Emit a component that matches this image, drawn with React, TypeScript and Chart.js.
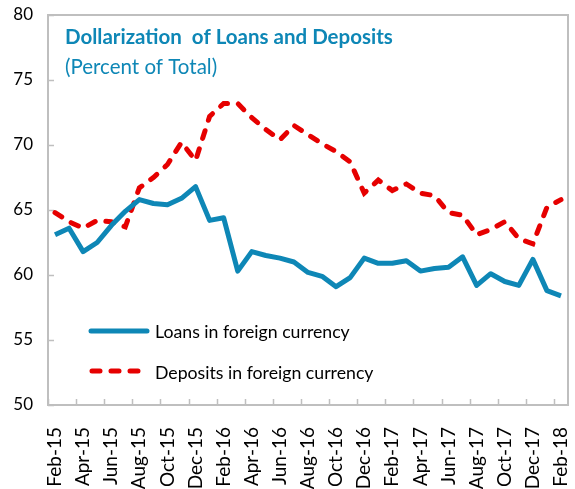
import React, { useEffect, useRef } from "react";
import { Chart, registerables } from "chart.js";

Chart.register(...registerables);

const months: string[] = [
  "Feb-15","Mar-15","Apr-15","May-15","Jun-15","Jul-15","Aug-15","Sep-15","Oct-15","Nov-15","Dec-15","Jan-16",
  "Feb-16","Mar-16","Apr-16","May-16","Jun-16","Jul-16","Aug-16","Sep-16","Oct-16","Nov-16","Dec-16","Jan-17",
  "Feb-17","Mar-17","Apr-17","May-17","Jun-17","Jul-17","Aug-17","Sep-17","Oct-17","Nov-17","Dec-17","Jan-18","Feb-18",
];

const loans: number[] = [
  63.1, 63.6, 61.8, 62.5, 63.8, 64.9, 65.8, 65.5, 65.4, 65.9, 66.8, 64.2,
  64.4, 60.3, 61.8, 61.5, 61.3, 61.0, 60.2, 59.9, 59.1, 59.8, 61.3, 60.9,
  60.9, 61.1, 60.3, 60.5, 60.6, 61.4, 59.2, 60.1, 59.5, 59.2, 61.2, 58.8, 58.4,
];

const deposits: number[] = [
  64.8, 64.1, 63.6, 64.2, 64.1, 63.7, 66.7, 67.5, 68.5, 70.2, 68.8, 72.2,
  73.2, 73.2, 72.1, 71.2, 70.4, 71.5, 70.8, 70.1, 69.5, 68.7, 66.3, 67.3,
  66.5, 67.0, 66.3, 66.1, 64.8, 64.6, 63.1, 63.5, 64.1, 62.8, 62.4, 65.2, 65.8,
];

const yTicks: number[] = [50, 55, 60, 65, 70, 75, 80];

const titleText = "Dollarization  of Loans and Deposits";
const subtitleText = "(Percent of Total)";
const loansLabel = "Loans in foreign currency";
const depositsLabel = "Deposits in foreign currency";

const BLUE = "#0E87B6";
const RED = "#E60000";
const FRAME = "#BFBFBF";
const FONT = "Lato";

const decorPlugin = {
  id: "decor",
  beforeDatasetsDraw(chart: any) {
    const { ctx, chartArea } = chart;
    const { left, right, top, bottom } = chartArea;
    const ys = chart.scales.y;
    ctx.save();
    ctx.strokeStyle = FRAME;
    ctx.lineWidth = 2;
    ctx.strokeRect(left, top, right - left, bottom - top);
    ctx.lineWidth = 1.5;
    for (const v of yTicks) {
      const y = Math.round(ys.getPixelForValue(v)) + 0.5;
      ctx.beginPath();
      ctx.moveTo(left, y);
      ctx.lineTo(left + 6, y);
      ctx.stroke();
    }
    const n = months.length;
    const w = (right - left) / n;
    for (let i = 0; i <= n; i += 2) {
      const x = Math.round(left + i * w) + 0.5;
      ctx.beginPath();
      ctx.moveTo(x, bottom);
      ctx.lineTo(x, bottom - 6);
      ctx.stroke();
    }
    ctx.restore();
  },
  afterDraw(chart: any) {
    const { ctx } = chart;
    ctx.save();
    ctx.fillStyle = BLUE;
    ctx.textBaseline = "alphabetic";
    ctx.textAlign = "left";
    ctx.font = `bold 20.5px ${FONT}`;
    ctx.fillText(titleText, 65, 44);
    ctx.font = `20.5px ${FONT}`;
    ctx.fillText(subtitleText, 65, 74);
    ctx.lineWidth = 5;
    ctx.lineCap = "round";
    ctx.strokeStyle = BLUE;
    ctx.beginPath();
    ctx.moveTo(91, 331);
    ctx.lineTo(147, 331);
    ctx.stroke();
    ctx.strokeStyle = RED;
    ctx.setLineDash([8, 11]);
    ctx.beginPath();
    ctx.moveTo(92, 371);
    ctx.lineTo(145, 371);
    ctx.stroke();
    ctx.setLineDash([]);
    ctx.fillStyle = "#000";
    ctx.font = `17.7px ${FONT}`;
    ctx.textBaseline = "middle";
    ctx.fillText(loansLabel, 155, 332);
    ctx.fillText(depositsLabel, 155, 373);
    ctx.restore();
  },
};

export default function App() {
  const ref = useRef<HTMLCanvasElement | null>(null);
  useEffect(() => {
    document.body.style.margin = "0";
    const canvas = ref.current;
    if (!canvas) return;
    const chart = new Chart(canvas, {
      type: "line",
      data: {
        labels: months,
        datasets: [
          {
            label: loansLabel,
            data: loans,
            borderColor: BLUE,
            borderWidth: 5,
            pointRadius: 0,
            tension: 0,
            fill: false,
            borderJoinStyle: "round",
          },
          {
            label: depositsLabel,
            data: deposits,
            borderColor: RED,
            borderWidth: 5,
            borderDash: [8, 11],
            borderCapStyle: "round",
            pointRadius: 0,
            tension: 0,
            fill: false,
          },
        ],
      },
      options: {
        animation: false,
        responsive: false,
        maintainAspectRatio: false,
        layout: { padding: { top: 15, right: 7, left: 0, bottom: 0 } },
        plugins: { legend: { display: false }, tooltip: { enabled: false }, title: { display: false } },
        scales: {
          x: {
            type: "category",
            offset: true,
            grid: { display: false, drawTicks: false },
            border: { display: false },
            ticks: {
              autoSkip: false,
              maxRotation: 90,
              minRotation: 90,
              padding: 22,
              color: "#000",
              font: { family: FONT, size: 19 },
              callback: (_v: any, i: number) => (i % 2 === 0 ? months[i] : ""),
            },
            afterFit: (s: any) => {
              s.height = 84;
              s.paddingLeft = 0;
              s.paddingRight = 0;
            },
          },
          y: {
            min: 50,
            max: 80,
            grid: { display: false, drawTicks: false },
            border: { display: false },
            ticks: {
              stepSize: 5,
              padding: 15,
              color: "#000",
              font: { family: FONT, size: 17 },
            },
            afterFit: (s: any) => {
              s.width = 48;
              s.paddingTop = 0;
              s.paddingBottom = 0;
            },
          },
        },
      },
      plugins: [decorPlugin],
    });
    return () => chart.destroy();
  }, []);
  return (
    <div style={{ width: 575, height: 489 }}>
      <canvas ref={ref} width={575} height={489} style={{ display: "block" }} />
    </div>
  );
}
